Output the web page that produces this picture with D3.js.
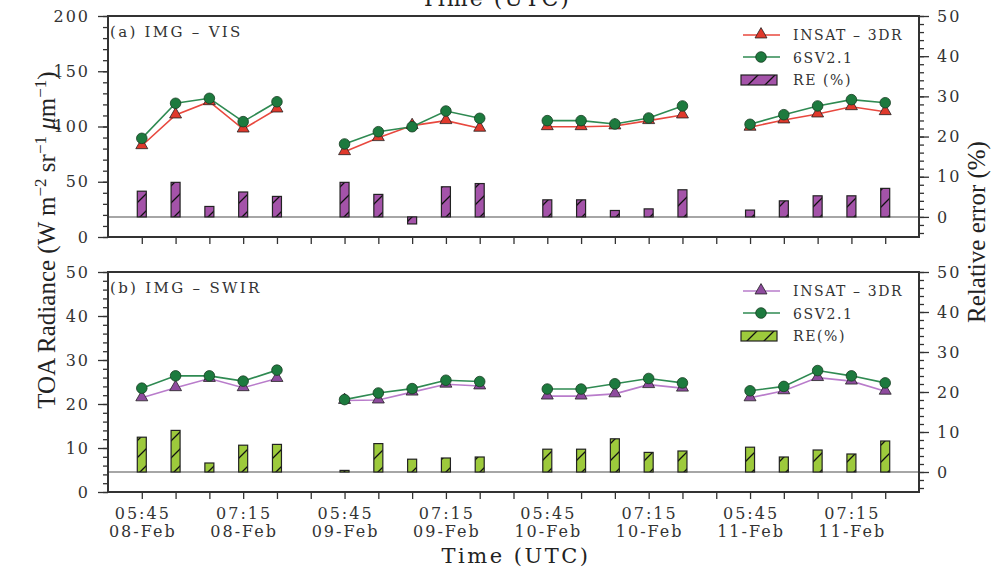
<!DOCTYPE html>
<html>
<head>
<meta charset="utf-8">
<script src="https://cdn.jsdelivr.net/npm/d3@7"></script>
<style>
  body { margin: 0; background: #fff; }
  svg { display: block; }
  .tick text { font-family: "DejaVu Serif", serif; font-size: 16px; letter-spacing: 2px; fill: #333; }
  .tick line { stroke: #333; stroke-width: 1.3; }
</style>
</head>
<body>
<div class="chart"></div>
<script>
// slots in each day, 30 min apart; a gap slot sits between days
var slots = ["05:45", "06:15", "06:45", "07:15", "07:45"];
var days = ["08-Feb", "09-Feb", "10-Feb", "11-Feb"];

// (a) IMG-VIS radiance and relative error
var visInsat = [82.6, 110.4, 122.4, 97.7, 115.8,  77.2, 89.9, 100.8, 105.3, 98.4,
                99.8, 99.8, 100.5, 105.3, 110.4,  99.3, 105.9, 111.3, 117.9, 113.4];
var vis6sv   = [89.3, 121.0, 125.5, 104.4, 122.4,  84.2, 95.3, 99.8, 114.0, 107.4,
                105.3, 105.3, 102.3, 107.7, 118.6,  102.0, 110.7, 118.6, 124.3, 121.5];
var visRE    = [6.4, 8.6, 2.6, 6.2, 5.1,  8.6, 5.6, -1.75, 7.5, 8.3,
                4.25, 4.25, 1.6, 2.0, 6.75,  1.7, 4.0, 5.25, 5.25, 7.1];

// (b) IMG-SWIR radiance and relative error
var swirInsat = [21.4, 23.7, 25.8, 23.7, 25.8,  20.8, 20.9, 22.7, 24.5, 24.1,
                 21.8, 21.8, 22.3, 24.4, 23.6,  21.4, 23.0, 26.0, 25.2, 22.9];
var swir6sv   = [23.6, 26.4, 26.4, 25.2, 27.7,  21.0, 22.5, 23.5, 25.4, 25.1,
                 23.4, 23.4, 24.6, 25.8, 24.8,  23.0, 24.0, 27.6, 26.4, 24.8];
var swirRE    = [8.7, 10.4, 2.25, 6.7, 6.9,  0.4, 7.1, 3.2, 3.5, 3.75,
                 5.7, 5.7, 8.3, 4.9, 5.25,  6.2, 3.75, 5.5, 4.5, 7.75];

var leftTicksVis = [0, 50, 100, 150, 200];
var leftTicksSwir = [0, 10, 20, 30, 40, 50];
var rightTicks = [0, 10, 20, 30, 40, 50];

var width = 992, height = 570;
var plotLeft = 108, plotRight = 919;

var svg = d3.select(".chart").append("svg")
  .attr("width", width)
  .attr("height", height);

var defs = svg.append("defs");

var x = d3.scaleLinear().domain([-1, 23]).range([plotLeft, plotRight]);

// position of a point: day block of 6 slots (5 + gap)
function pos(i) {
  return Math.floor(i / 5) * 6 + (i % 5);
}

function hatch(id, color) {
  var p = defs.append("pattern")
    .attr("id", id)
    .attr("patternUnits", "userSpaceOnUse")
    .attr("width", 17).attr("height", 17);
  p.append("rect").attr("width", 17).attr("height", 17).attr("fill", color);
  p.append("path")
    .attr("d", "M0,17 L17,0 M-3,3 L3,-3 M14,20 L20,14")
    .attr("stroke", "#111").attr("stroke-width", 1.3);
}
hatch("hatchVis", "#a453a9");
hatch("hatchSwir", "#9dca3c");

function triangle(g, cx, cy, fill) {
  g.append("path")
    .attr("d", d3.symbol().type(d3.symbolTriangle).size(62)())
    .attr("transform", "translate(" + cx + "," + (cy - 0.5) + ")")
    .attr("fill", fill).attr("stroke", "#222").attr("stroke-width", 0.8);
}

function circle(g, cx, cy) {
  g.append("circle")
    .attr("cx", cx).attr("cy", cy).attr("r", 5.3)
    .attr("fill", "#1d7a3e").attr("stroke", "#173d22").attr("stroke-width", 0.8);
}

function drawPanel(opt) {
  var g = svg.append("g");
  var yL = d3.scaleLinear().domain([0, opt.leftMax]).range([opt.bottom, opt.top]);
  var yR = d3.scaleLinear().domain([-5, 50]).range([opt.bottom, opt.top]);

  // zero line of relative error
  g.append("line")
    .attr("x1", plotLeft).attr("x2", plotRight)
    .attr("y1", yR(0)).attr("y2", yR(0))
    .attr("stroke", "#888").attr("stroke-width", 1.5);

  // bars
  g.selectAll(".bar").data(opt.re).enter().append("rect")
    .attr("x", (d, i) => x(pos(i)) - 4.5)
    .attr("width", 9)
    .attr("y", d => yR(Math.max(0, d)))
    .attr("height", d => Math.abs(yR(d) - yR(0)))
    .attr("fill", "url(#" + opt.pattern + ")")
    .attr("stroke", "#222").attr("stroke-width", 1.2);

  // lines, one segment per day
  var line = d3.line().x(d => x(d.p)).y(d => yL(d.v));
  [opt.insat, opt.sixs].forEach(function (arr, k) {
    for (var day = 0; day < days.length; day++) {
      var seg = arr.slice(day * 5, day * 5 + 5).map((v, j) => ({p: day * 6 + j, v: v}));
      g.append("path").attr("d", line(seg))
        .attr("fill", "none")
        .attr("stroke", k == 0 ? opt.insatLine : "#2f8a52")
        .attr("stroke-width", 1.6);
    }
  });

  opt.insat.forEach((v, i) => triangle(g, x(pos(i)), yL(v), opt.insatFill));
  opt.sixs.forEach((v, i) => circle(g, x(pos(i)), yL(v)));

  // axes
  var xAxis = d3.axisBottom(x).tickValues(d3.range(0, 23)).tickSize(7).tickFormat("");
  var xg = g.append("g").attr("transform", "translate(0," + opt.bottom + ")").call(xAxis);
  xg.select(".domain").remove();

  if (opt.labels) {
    var labelled = [];
    days.forEach(function (dname, di) {
      labelled.push({p: di * 6, t: slots[0], d: dname});
      labelled.push({p: di * 6 + 3, t: slots[3], d: dname});
    });
    labelled.forEach(function (l) {
      var t = g.append("text")
        .attr("text-anchor", "middle")
        .style("font-family", "DejaVu Serif, serif").style("font-size", "16px")
        .style("letter-spacing", "2px").style("fill", "#333");
      t.append("tspan").attr("x", x(l.p) + 1).attr("y", opt.bottom + 27).text(l.t);
      t.append("tspan").attr("x", x(l.p) + 1).attr("y", opt.bottom + 45).text(l.d);
    });
  }

  var minorL = d3.range(0, opt.leftMax + 0.001, opt.leftMinor);
  g.append("g").attr("transform", "translate(" + plotLeft + ",0)")
    .call(d3.axisLeft(yL).tickValues(minorL).tickSize(5).tickFormat(""))
    .select(".domain").remove();
  g.append("g").attr("transform", "translate(" + plotLeft + ",0)")
    .call(d3.axisLeft(yL).tickValues(opt.leftTicks).tickSize(10).tickPadding(8))
    .select(".domain").remove();

  g.append("g").attr("transform", "translate(" + plotRight + ",0)")
    .call(d3.axisRight(yR).tickValues(d3.range(-4, 50.001, 2)).tickSize(5).tickFormat(""))
    .select(".domain").remove();
  g.append("g").attr("transform", "translate(" + plotRight + ",0)")
    .call(d3.axisRight(yR).tickValues(rightTicks).tickSize(10).tickPadding(8))
    .select(".domain").remove();

  // frame
  g.append("rect")
    .attr("x", plotLeft).attr("y", opt.top)
    .attr("width", plotRight - plotLeft).attr("height", opt.bottom - opt.top)
    .attr("fill", "none").attr("stroke", "#333").attr("stroke-width", 2);

  g.append("text")
    .attr("x", plotLeft + 2).attr("y", opt.top + 21)
    .style("font-family", "DejaVu Serif, serif").style("font-size", "15px")
    .style("letter-spacing", "2.3px").style("fill", "#333")
    .text(opt.title);

  // legend
  var lx = 743, ly = opt.top;
  var lg = g.append("g");
  lg.append("line").attr("x1", lx).attr("x2", lx + 37).attr("y1", ly + 19).attr("y2", ly + 19)
    .attr("stroke", opt.insatLine).attr("stroke-width", 1.6);
  triangle(lg, lx + 18, ly + 19, opt.insatFill);
  lg.append("line").attr("x1", lx).attr("x2", lx + 37).attr("y1", ly + 41).attr("y2", ly + 41)
    .attr("stroke", "#2f8a52").attr("stroke-width", 1.6);
  circle(lg, lx + 18, ly + 41);
  lg.append("rect").attr("x", lx - 2).attr("y", ly + 59).attr("width", 36).attr("height", 10)
    .attr("fill", "url(#" + opt.pattern + ")").attr("stroke", "#222").attr("stroke-width", 1.2);
  var names = ["INSAT \u2013 3DR", "6SV2.1", opt.reName];
  names.forEach(function (n, i) {
    lg.append("text")
      .attr("x", lx + 50).attr("y", ly + 24 + i * 22.5)
      .style("font-family", "DejaVu Serif, serif").style("font-size", "14px")
      .style("letter-spacing", "1.6px").style("fill", "#333")
      .text(n);
  });
}

drawPanel({
  top: 16, bottom: 237, leftMax: 200, leftMinor: 10, leftTicks: leftTicksVis,
  insat: visInsat, sixs: vis6sv, re: visRE,
  insatLine: "#e8483e", insatFill: "#e0392c", pattern: "hatchVis",
  title: "(a) IMG \u2013 VIS", reName: "RE (%)", labels: false
});

drawPanel({
  top: 272, bottom: 492, leftMax: 50, leftMinor: 2, leftTicks: leftTicksSwir,
  insat: swirInsat, sixs: swir6sv, re: swirRE,
  insatLine: "#b97ccb", insatFill: "#8e4b9e", pattern: "hatchSwir",
  title: "(b) IMG \u2013 SWIR", reName: "RE(%)", labels: true
});

// axis titles (the top one is cut by the page edge, as in the original)
svg.append("text")
  .attr("x", 496).attr("y", 6)
  .attr("text-anchor", "middle")
  .style("font-family", "DejaVu Serif, serif").style("font-size", "22px")
  .style("letter-spacing", "2px").style("fill", "#222")
  .text("Time (UTC)");

svg.append("text")
  .attr("x", 516).attr("y", 563)
  .attr("text-anchor", "middle")
  .style("font-family", "DejaVu Serif, serif").style("font-size", "21px")
  .style("letter-spacing", "2.5px").style("fill", "#222")
  .text("Time (UTC)");

var yl = svg.append("text")
  .attr("transform", "translate(55,240) rotate(-90)")
  .attr("text-anchor", "middle")
  .style("font-family", "Liberation Serif, serif").style("font-size", "25px")
  .style("fill", "#222");
yl.append("tspan").text("TOA Radiance (W m");
yl.append("tspan").attr("dy", -9).style("font-size", "17px").text("\u22122");
yl.append("tspan").attr("dy", 9).text(" sr");
yl.append("tspan").attr("dy", -9).style("font-size", "17px").text("\u22121");
yl.append("tspan").attr("dy", 9).text(" ");
yl.append("tspan").style("font-style", "italic").text("\u03bc");
yl.append("tspan").text("m");
yl.append("tspan").attr("dy", -9).style("font-size", "17px").text("\u22121");
yl.append("tspan").attr("dy", 9).text(")");

svg.append("text")
  .attr("transform", "translate(985,232) rotate(-90)")
  .attr("text-anchor", "middle")
  .style("font-family", "Liberation Serif, serif").style("font-size", "25px")
  .style("fill", "#222")
  .text("Relative error (%)");
</script>
</body>
</html>
